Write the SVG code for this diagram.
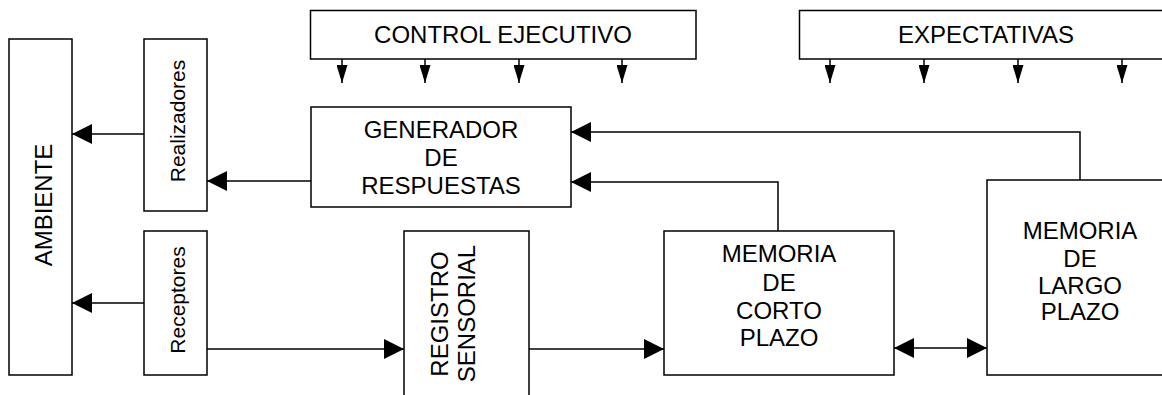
<svg xmlns="http://www.w3.org/2000/svg" width="1162" height="395" viewBox="0 0 1162 395">
<style>
.box{fill:#fff;stroke:#000;stroke-width:1.5}
.ln{fill:none;stroke:#000;stroke-width:1.5}
.t{font-family:"Liberation Sans",Arial,sans-serif;font-size:24px;fill:#000;text-anchor:middle}
.s{font-family:"Liberation Sans",Arial,sans-serif;font-size:21px;fill:#000;text-anchor:middle}
</style>
<defs>
<marker id="big" markerUnits="userSpaceOnUse" markerWidth="20" markerHeight="20" refX="20" refY="10" orient="auto-start-reverse"><path d="M0,0 L20,10 L0,20 Z" fill="#000"/></marker>
<marker id="small" markerUnits="userSpaceOnUse" markerWidth="18" markerHeight="11" refX="18" refY="5.5" orient="auto"><path d="M0,0 L18,5.5 L0,11 Z" fill="#000"/></marker>
</defs>
<rect width="1162" height="395" fill="#fff"/>
<g id="ambiente"><rect class="box" x="9" y="39" width="63" height="336"/><text class="t" transform="translate(51.5,205) rotate(-90)">AMBIENTE</text></g>
<g id="realizadores"><rect class="box" x="144" y="39" width="63" height="172"/><text class="s" transform="translate(185,121) rotate(-90)">Realizadores</text></g>
<g id="receptores"><rect class="box" x="144" y="231" width="63" height="144"/><text class="s" transform="translate(185,300) rotate(-90)">Receptores</text></g>
<g id="control"><rect class="box" x="310.5" y="10.5" width="385.5" height="48.5"/><text class="t" x="503" y="43">CONTROL EJECUTIVO</text></g>
<g id="expectativas"><rect class="box" x="799.5" y="10.5" width="380" height="48.5"/><text class="t" x="986" y="43">EXPECTATIVAS</text></g>
<g id="generador"><rect class="box" x="311" y="107" width="260" height="100"/><text class="t" x="441" y="138">GENERADOR</text><text class="t" x="441" y="166">DE</text><text class="t" x="441" y="194">RESPUESTAS</text></g>
<g id="registro"><rect class="box" x="404" y="231" width="125" height="180"/><text class="t" transform="translate(448,314) rotate(-90)">REGISTRO</text><text class="t" transform="translate(474.5,313.5) rotate(-90)">SENSORIAL</text></g>
<g id="corto"><rect class="box" x="664" y="231" width="230" height="144"/><text class="t" x="779" y="262">MEMORIA</text><text class="t" x="779" y="290.5">DE</text><text class="t" x="779" y="318.5">CORTO</text><text class="t" x="779" y="346">PLAZO</text></g>
<g id="largo"><rect class="box" x="987" y="180" width="190" height="195"/><text class="t" x="1080" y="239">MEMORIA</text><text class="t" x="1080" y="266.5">DE</text><text class="t" x="1080" y="293.5">LARGO</text><text class="t" x="1080" y="320">PLAZO</text></g>
<g id="connectors">
<line class="ln" x1="144" y1="134" x2="72" y2="134" marker-end="url(#big)"/>
<line class="ln" x1="311" y1="181" x2="207" y2="181" marker-end="url(#big)"/>
<line class="ln" x1="144" y1="303" x2="72" y2="303" marker-end="url(#big)"/>
<line class="ln" x1="207" y1="349" x2="404" y2="349" marker-end="url(#big)"/>
<line class="ln" x1="529" y1="349" x2="664" y2="349" marker-end="url(#big)"/>
<line class="ln" x1="894" y1="348" x2="987" y2="348" marker-start="url(#big)" marker-end="url(#big)"/>
<path class="ln" d="M778,231 V182 H571" marker-end="url(#big)"/>
<path class="ln" d="M1080,180 V132 H571" marker-end="url(#big)"/>
<line class="ln" x1="342" y1="59" x2="342" y2="83" marker-end="url(#small)"/>
<line class="ln" x1="425" y1="59" x2="425" y2="83" marker-end="url(#small)"/>
<line class="ln" x1="519" y1="59" x2="519" y2="83" marker-end="url(#small)"/>
<line class="ln" x1="622" y1="59" x2="622" y2="83" marker-end="url(#small)"/>
<line class="ln" x1="830" y1="59" x2="830" y2="83" marker-end="url(#small)"/>
<line class="ln" x1="924" y1="59" x2="924" y2="83" marker-end="url(#small)"/>
<line class="ln" x1="1018" y1="59" x2="1018" y2="83" marker-end="url(#small)"/>
<line class="ln" x1="1122" y1="59" x2="1122" y2="83" marker-end="url(#small)"/>
</g>
</svg>
